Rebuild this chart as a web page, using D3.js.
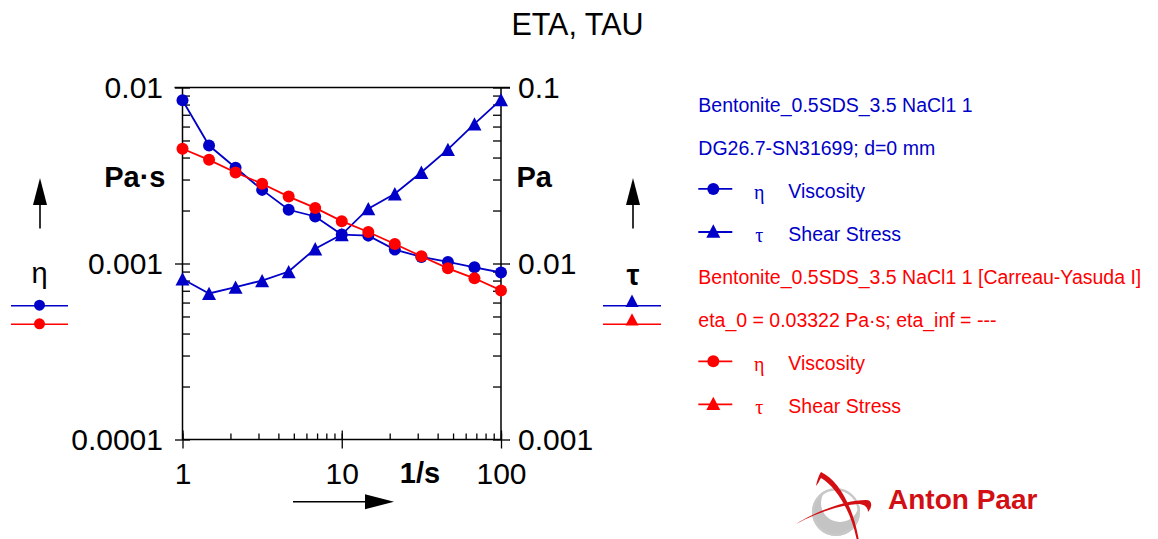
<!DOCTYPE html>
<html>
<head>
<meta charset="utf-8">
<script src="https://cdn.jsdelivr.net/npm/d3@7"></script>
<style>
  html, body { margin: 0; padding: 0; background: #fff; }
  svg { display: block; font-family: "Liberation Sans", Arial, sans-serif; }
</style>
</head>
<body>
<svg id="chart" width="1158" height="539"></svg>
<script>
// Flow curve: shear rate (1/s) against viscosity and shear stress
const shearRate = [1, 1.468, 2.154, 3.162, 4.642, 6.813, 10, 14.68, 21.54, 31.62, 46.42, 68.13, 100];
const etaMeasured = [0.00847, 0.00468, 0.00350, 0.00262, 0.00202, 0.00185, 0.00146, 0.00144, 0.00120, 0.00109, 0.00102, 0.000952, 0.000889];
const tauMeasured = [0.00817, 0.00676, 0.00735, 0.00800, 0.00900, 0.01213, 0.0146, 0.0205, 0.0249, 0.0330, 0.0445, 0.0622, 0.0853];
const etaFitted = [0.00449, 0.00388, 0.00329, 0.00284, 0.00240, 0.00207, 0.00174, 0.00151, 0.00129, 0.00110, 0.000939, 0.000824, 0.000703];

const xTicks = [1, 10, 100];
const xTickLabels = ["1", "10", "100"];
const etaTicks = [0.0001, 0.001, 0.01];
const etaTickLabels = ["0.0001", "0.001", "0.01"];
const tauTicks = [0.001, 0.01, 0.1];
const tauTickLabels = ["0.001", "0.01", "0.1"];

const legendRows = [
  { kind: "text", text: "Bentonite_0.5SDS_3.5 NaCl1 1", color: "blue" },
  { kind: "text", text: "DG26.7-SN31699; d=0 mm", color: "blue" },
  { kind: "item", symbol: "circle", greek: "\u03B7", text: "Viscosity", color: "blue" },
  { kind: "item", symbol: "triangle", greek: "\u03C4", text: "Shear Stress", color: "blue" },
  { kind: "text", text: "Bentonite_0.5SDS_3.5 NaCl1 1 [Carreau-Yasuda I]", color: "red" },
  { kind: "text", text: "eta_0 = 0.03322 Pa\u00B7s; eta_inf = ---", color: "red" },
  { kind: "item", symbol: "circle", greek: "\u03B7", text: "Viscosity", color: "red" },
  { kind: "item", symbol: "triangle", greek: "\u03C4", text: "Shear Stress", color: "red" }
];

const COLORS = { blue: "#0000c8", red: "#ff0000" };
const FONT = "'Liberation Sans', Arial, sans-serif";

const svg = d3.select("#chart");

const x = d3.scaleLog().domain([1, 100]).range([182.5, 501]);
const yEta = d3.scaleLog().domain([1e-4, 1e-2]).range([439.5, 87.5]);
const yTau = d3.scaleLog().domain([1e-3, 1e-1]).range([439.5, 87.5]);

// minor tick positions for each decade
function logMinors(lo, hi) {
  const out = [];
  for (let d = lo; d < hi; d *= 10) {
    for (let m = 1; m < 10; m++) out.push(d * m);
  }
  out.push(hi);
  return out;
}

// Title
svg.append("text")
  .attr("x", 577.5).attr("y", 34.5)
  .attr("text-anchor", "middle")
  .attr("font-size", 30.5).attr("fill", "#000")
  .text("ETA, TAU");

const axesG = svg.append("g").attr("class", "axes");

function styleAxis(g, fontSize) {
  g.selectAll("path.domain").remove();
  g.selectAll("line").attr("stroke", "#000").attr("stroke-width", 1.3);
  g.selectAll("text").attr("font-size", fontSize).attr("fill", "#000").attr("font-family", FONT);
}

// Left axis (viscosity)
axesG.append("g").attr("transform", `translate(${x.range()[0]},0)`)
  .call(d3.axisLeft(yEta).tickValues(etaTicks).tickSize(7.5).tickSizeOuter(0).tickPadding(12)
    .tickFormat((d, i) => etaTickLabels[i]))
  .call(g => styleAxis(g, 30));
axesG.append("g").attr("transform", `translate(${x.range()[0]},0)`)
  .call(d3.axisLeft(yEta).tickValues(logMinors(1e-4, 1e-2)).tickSize(-7.5).tickSizeOuter(0).tickFormat(""))
  .call(g => styleAxis(g, 30));

// Right axis (shear stress)
axesG.append("g").attr("transform", `translate(${x.range()[1]},0)`)
  .call(d3.axisRight(yTau).tickValues(tauTicks).tickSize(9).tickSizeOuter(0).tickPadding(8)
    .tickFormat((d, i) => tauTickLabels[i]))
  .call(g => styleAxis(g, 30));
axesG.append("g").attr("transform", `translate(${x.range()[1]},0)`)
  .call(d3.axisRight(yTau).tickValues(logMinors(1e-3, 1e-1)).tickSize(-8).tickSizeOuter(0).tickFormat(""))
  .call(g => styleAxis(g, 30));

// Bottom axis (shear rate)
axesG.append("g").attr("transform", `translate(0,${yEta.range()[0]})`)
  .call(d3.axisBottom(x).tickValues(xTicks).tickSize(9).tickSizeOuter(0).tickPadding(14.5)
    .tickFormat((d, i) => xTickLabels[i]))
  .call(g => styleAxis(g, 30));
axesG.append("g").attr("transform", `translate(0,${yEta.range()[0]})`)
  .call(d3.axisBottom(x).tickValues(logMinors(1, 100)).tickSize(-6).tickSizeOuter(0).tickFormat(""))
  .call(g => styleAxis(g, 30));
axesG.append("g").attr("transform", `translate(0,${yEta.range()[0]})`)
  .call(d3.axisBottom(x).tickValues(xTicks).tickSize(-9).tickSizeOuter(0).tickFormat(""))
  .call(g => styleAxis(g, 30));

// Frame lines
const [x0, x1] = x.range();
const [yb, yt] = yEta.range();
const frame = axesG.append("g").attr("stroke", "#000").attr("stroke-width", 1.5);
frame.append("line").attr("x1", x0).attr("x2", x0).attr("y1", yt).attr("y2", yb);
frame.append("line").attr("x1", x1).attr("x2", x1).attr("y1", yt).attr("y2", yb);
frame.append("line").attr("x1", x0).attr("x2", x1).attr("y1", yb).attr("y2", yb);
frame.append("line").attr("x1", x0 - 8).attr("x2", x1 + 9).attr("y1", yt).attr("y2", yt);

// Unit labels
svg.append("text").attr("x", 165.5).attr("y", 186.5).attr("text-anchor", "end")
  .attr("font-size", 29).attr("font-weight", "bold").text("Pa\u00B7s");
svg.append("text").attr("x", 516.5).attr("y", 186.5).attr("text-anchor", "start")
  .attr("font-size", 29).attr("font-weight", "bold").text("Pa");
svg.append("text").attr("x", 420).attr("y", 483).attr("text-anchor", "middle")
  .attr("font-size", 29).attr("font-weight", "bold").text("1/s");

// Arrows
function arrow(x1_, y1_, x2_, y2_, headLen, headHalf) {
  const ang = Math.atan2(y2_ - y1_, x2_ - x1_);
  const bx = x2_ - headLen * Math.cos(ang), by = y2_ - headLen * Math.sin(ang);
  svg.append("line").attr("x1", x1_).attr("y1", y1_).attr("x2", bx).attr("y2", by)
    .attr("stroke", "#000").attr("stroke-width", 1.6);
  const px = -Math.sin(ang) * headHalf, py = Math.cos(ang) * headHalf;
  svg.append("path")
    .attr("d", `M${x2_},${y2_}L${bx + px},${by + py}L${bx - px},${by - py}Z`)
    .attr("fill", "#000");
}
arrow(40, 228.5, 40, 178, 27, 7);
arrow(633, 228.5, 633, 178, 27, 7);
arrow(293, 501.7, 394, 501.7, 29, 7.5);

// Greek axis symbols
svg.append("text").attr("x", 39.5).attr("y", 283).attr("text-anchor", "middle")
  .attr("font-size", 29).text("\u03B7");
svg.append("text").attr("x", 633).attr("y", 284.5).attr("text-anchor", "middle")
  .attr("font-size", 29).attr("font-weight", "bold").text("\u03C4");

// Marker helpers
function circleMark(g, cx, cy, r, color) {
  g.append("circle").attr("cx", cx).attr("cy", cy).attr("r", r).attr("fill", color);
}
function triMark(g, cx, cy, w, color) {
  const h = w * 0.95;
  g.append("path")
    .attr("d", `M${cx},${cy - h / 2}L${cx + w / 2},${cy + h / 2}L${cx - w / 2},${cy + h / 2}Z`)
    .attr("fill", color);
}

// Mini legend keys beside the axes
function keyLine(xa, xb, y, color, symbol) {
  const g = svg.append("g");
  g.append("line").attr("x1", xa).attr("x2", xb).attr("y1", y).attr("y2", y)
    .attr("stroke", color).attr("stroke-width", 1.6);
  const cx = (xa + xb) / 2;
  if (symbol === "circle") circleMark(g, cx, y - 0.5, 5.5, color);
  else triMark(g, cx, y - 5, 13, color);
}
keyLine(11, 68, 305.7, COLORS.blue, "circle");
keyLine(11, 68, 324.3, COLORS.red, "circle");
keyLine(603, 661, 305.7, COLORS.blue, "triangle");
keyLine(603, 661, 324.3, COLORS.red, "triangle");

// Data series
const plot = svg.append("g").attr("class", "plot");
function series(values, yScale, color, symbol) {
  const pts = shearRate.map((r, i) => [x(r), yScale(values[i])]);
  plot.append("path")
    .attr("d", d3.line()(pts))
    .attr("fill", "none").attr("stroke", color).attr("stroke-width", 1.8);
  const g = plot.append("g");
  pts.forEach(([px, py]) => {
    if (symbol === "circle") circleMark(g, px, py, 6, color);
    else triMark(g, px, py, 14, color);
  });
}
series(tauMeasured, yTau, COLORS.blue, "triangle");
series(etaMeasured, yEta, COLORS.blue, "circle");
series(etaFitted, yEta, COLORS.red, "circle");

// Legend block
const legend = svg.append("g").attr("class", "legend");
const lgX = 698.3, lgY0 = 111.7, lgStep = 43.1;
legendRows.forEach((row, i) => {
  const by = lgY0 + i * lgStep;
  const color = COLORS[row.color];
  if (row.kind === "text") {
    legend.append("text").attr("x", lgX).attr("y", by)
      .attr("font-size", 19.5).attr("fill", color).text(row.text);
  } else {
    const cy = by - 9;
    legend.append("line").attr("x1", lgX).attr("x2", lgX + 34).attr("y1", cy).attr("y2", cy)
      .attr("stroke", color).attr("stroke-width", 1.8);
    if (row.symbol === "circle") circleMark(legend, lgX + 15, cy, 6, color);
    else triMark(legend, lgX + 15, cy - 1, 14, color);
    legend.append("text").attr("x", lgX + 61).attr("y", by + 1)
      .attr("text-anchor", "middle").attr("font-size", 20).attr("fill", color)
      .attr("font-family", "'Liberation Serif', serif").text(row.greek);
    legend.append("text").attr("x", lgX + 90).attr("y", by)
      .attr("font-size", 19.5).attr("fill", color).text(row.text);
  }
});

// Company mark
const logo = svg.append("g").attr("class", "logo");
const sphere = { cx: 836, cy: 512, r: 24 };
logo.append("circle").attr("cx", sphere.cx).attr("cy", sphere.cy).attr("r", sphere.r).attr("fill", "#c4c4c4");
logo.append("circle").attr("cx", sphere.cx + 4).attr("cy", sphere.cy - 9).attr("r", sphere.r - 5).attr("fill", "#fff");
logo.append("circle").attr("cx", sphere.cx).attr("cy", sphere.cy).attr("r", sphere.r - 1.2)
  .attr("fill", "none").attr("stroke", "#c8c8c8").attr("stroke-width", 2.4);
logo.append("path")
  .attr("d", "M816,486 C817,480 819,475 821,472 C838,480 853,505 859,541 L857,541 C851,510 836,487 821,478 C819,481 818,484 816,486Z")
  .attr("fill", "#d40f14");
logo.append("path")
  .attr("d", "M796,524 C815,512 845,500 866,500 C872,500 873,506 868,512 C868,507 864,504 858,504 C838,505 815,514 796,524Z")
  .attr("fill", "#d40f14");
logo.append("text").attr("x", 888).attr("y", 508.5)
  .attr("font-size", 28).attr("font-weight", "bold").attr("fill", "#d10f14")
  .text("Anton Paar");
</script>
</body>
</html>
